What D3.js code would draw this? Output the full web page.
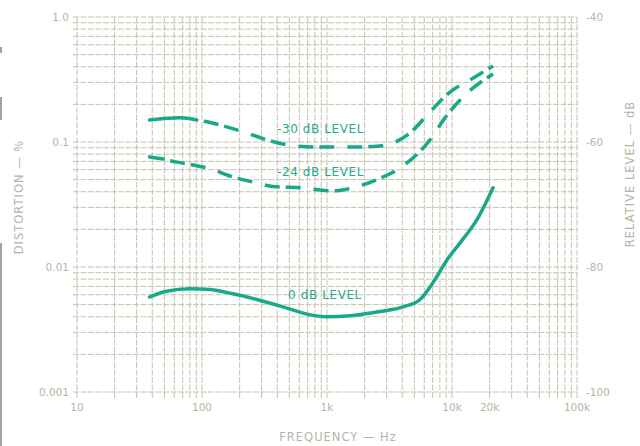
<!DOCTYPE html>
<html>
<head>
<meta charset="utf-8">
<script src="https://cdn.jsdelivr.net/npm/d3@7/dist/d3.min.js"></script>
<style>
body { margin: 0; background: #fff; }
text { font-family: "DejaVu Sans", sans-serif; }
</style>
</head>
<body>
<div id="canvas"></div>
<script>
// axis ticks
var freqTicks = [10, 100, 1000, 10000, 20000, 100000];
var freqLabels = ["10", "100", "1k", "10k", "20k", "100k"];
var distTicks = [1, 0.1, 0.01, 0.001];
var distLabels = ["1.0", "0.1", "0.01", "0.001"];
var levelTicks = [-40, -60, -80, -100];
var levelLabels = ["-40", "-60", "-80", "-100"];

// -30 dB level
var freq30 = [38, 67, 91, 110, 158, 229, 331, 479, 832, 1530, 2650, 4610, 6670, 9640, 13900, 21300];
var dist30 = [0.150, 0.156, 0.150, 0.145, 0.132, 0.118, 0.104, 0.095, 0.091, 0.091, 0.093, 0.118, 0.174, 0.251, 0.313, 0.406];
// -24 dB level
var freq24 = [38, 49, 63, 85, 116, 177, 275, 370, 608, 1120, 1740, 2510, 3840, 6670, 8790, 11600, 21300];
var dist24 = [0.076, 0.073, 0.069, 0.0655, 0.061, 0.0525, 0.047, 0.044, 0.043, 0.0406, 0.044, 0.050, 0.062, 0.104, 0.156, 0.217, 0.350];
// 0 dB level
var freq0 = [38, 52, 80, 116, 177, 275, 445, 692, 1000, 1610, 2650, 4060, 5550, 7050, 9120, 11600, 15800, 21300];
var dist0 = [0.00575, 0.0064, 0.0067, 0.0066, 0.0061, 0.0055, 0.0048, 0.0042, 0.0040, 0.0041, 0.0044, 0.0048, 0.0055, 0.0075, 0.0114, 0.0156, 0.0238, 0.043];

var W = 640, H = 446;
var mL = 77, mR = 577, mT = 17, mB = 392;
var gridCol = "#c4c4ad", textCol = "#b5b5a5", curveCol = "#1aa88a";

var svg = d3.select("#canvas").append("svg")
    .attr("width", W)
    .attr("height", H);

svg.append("rect").attr("width", W).attr("height", H).attr("fill", "#fff");

// scan edge on the left
svg.append("rect").attr("x", 0).attr("y", 243).attr("width", 2).attr("height", H - 243).attr("fill", "#9aa6a6");
svg.append("rect").attr("x", 0).attr("y", 97).attr("width", 2).attr("height", 23).attr("fill", "#9aa6a6");
svg.append("rect").attr("x", 0).attr("y", 47).attr("width", 2).attr("height", 6).attr("fill", "#9aa6a6");

var x = d3.scaleLog().domain([10, 100000]).range([mL, mR]);
var y = d3.scaleLog().domain([0.001, 1]).range([mB, mT]);
var yr = d3.scaleLinear().domain([-100, -40]).range([mB, mT]);

// log grid
var vLines = [];
[10, 100, 1000, 10000].forEach(function(dec) {
    for (var i = 1; i < 10; i++) vLines.push(dec * i);
});
vLines.push(100000);
var hLines = [];
[0.001, 0.01, 0.1].forEach(function(dec) {
    for (var i = 1; i < 10; i++) hLines.push(dec * i);
});
hLines.push(1);

var grid = svg.append("g");
grid.selectAll(".v").data(vLines).enter().append("line")
    .attr("x1", d => x(d)).attr("x2", d => x(d))
    .attr("y1", mT).attr("y2", mB + 6)
    .attr("stroke", gridCol)
    .attr("stroke-width", 1)
    .attr("stroke-dasharray", "6,1.5");
grid.selectAll(".h").data(hLines).enter().append("line")
    .attr("x1", mL - 4).attr("x2", mR)
    .attr("y1", d => y(d)).attr("y2", d => y(d))
    .attr("stroke", gridCol)
    .attr("stroke-width", 1)
    .attr("stroke-dasharray", "6,1.5");

// tick labels
svg.selectAll(".xl").data(freqTicks).enter().append("text")
    .attr("x", d => x(d))
    .attr("y", mB + 19)
    .attr("text-anchor", "middle")
    .attr("font-size", 10.5)
    .attr("fill", textCol)
    .text((d, i) => freqLabels[i]);

svg.selectAll(".yl").data(distTicks).enter().append("text")
    .attr("x", mL - 8)
    .attr("y", d => y(d) + 4)
    .attr("text-anchor", "end")
    .attr("font-size", 10.5)
    .attr("fill", textCol)
    .text((d, i) => distLabels[i]);

svg.selectAll(".rl").data(levelTicks).enter().append("text")
    .attr("x", mR + 9)
    .attr("y", d => yr(d) + 4)
    .attr("text-anchor", "start")
    .attr("font-size", 10.5)
    .attr("fill", textCol)
    .text((d, i) => levelLabels[i]);

// axis titles
svg.append("text")
    .attr("transform", "translate(23,197) rotate(-90)")
    .attr("text-anchor", "middle")
    .attr("font-size", 11.5)
    .attr("letter-spacing", 1)
    .attr("fill", textCol)
    .text("DISTORTION \u2014 %");

svg.append("text")
    .attr("transform", "translate(634,174) rotate(-90)")
    .attr("text-anchor", "middle")
    .attr("font-size", 11.5)
    .attr("letter-spacing", 1)
    .attr("fill", textCol)
    .text("RELATIVE LEVEL \u2014 dB");

svg.append("text")
    .attr("x", 338)
    .attr("y", 441)
    .attr("text-anchor", "middle")
    .attr("font-size", 11.5)
    .attr("letter-spacing", 1)
    .attr("fill", textCol)
    .text("FREQUENCY \u2014 Hz");

// curves
var line = d3.line()
    .x(d => x(d[0]))
    .y(d => y(d[1]))
    .curve(d3.curveMonotoneX);

function drawSeries(freqs, dists, solidEnd) {
    var pts = freqs.map((f, i) => [f, dists[i]]);
    if (solidEnd > 0) {
        svg.append("path")
            .attr("d", line(pts.slice(0, solidEnd + 1)))
            .attr("fill", "none")
            .attr("stroke", curveCol)
            .attr("stroke-width", 3.5)
            .attr("stroke-linecap", "round");
        svg.append("path")
            .attr("d", line(pts.slice(solidEnd)))
            .attr("fill", "none")
            .attr("stroke", curveCol)
            .attr("stroke-width", 3.5)
            .attr("stroke-dasharray", "0,7,15,6,15,6");
    } else {
        svg.append("path")
            .attr("d", line(pts))
            .attr("fill", "none")
            .attr("stroke", curveCol)
            .attr("stroke-width", 3.5)
            .attr("stroke-linecap", "round");
    }
}

drawSeries(freq30, dist30, 2);
drawSeries(freq24, dist24, 1);
drawSeries(freq0, dist0, 0);

// curve labels
function curveLabel(txt, f, d) {
    svg.append("text")
        .attr("x", x(f))
        .attr("y", y(d))
        .attr("font-size", 12)
        .attr("letter-spacing", 0.6)
        .attr("fill", "#2aa88e")
        .text(txt);
}
curveLabel("-30 dB LEVEL", 398, 0.118);
curveLabel("-24 dB LEVEL", 398, 0.0535);
curveLabel("0 dB LEVEL", 488, 0.00555);
</script>
</body>
</html>
